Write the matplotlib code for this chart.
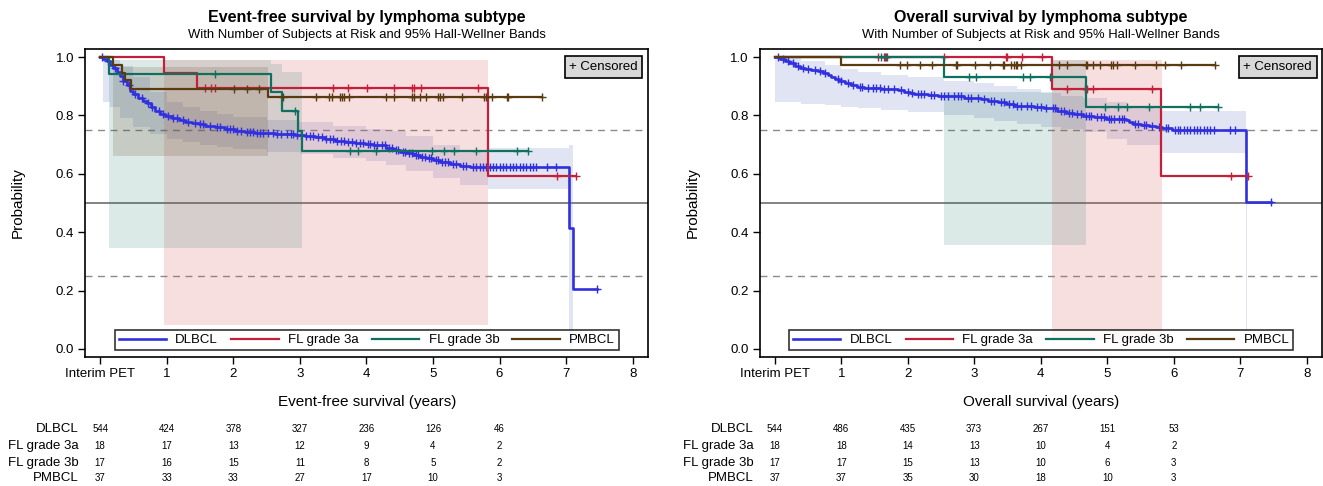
import numpy as np
import matplotlib.pyplot as plt
from matplotlib.transforms import blended_transform_factory

plt.rcParams['font.family'] = ['Liberation Sans', 'DejaVu Sans']

groups = ['DLBCL', 'FL grade 3a', 'FL grade 3b', 'PMBCL']
colors = ['#3030e0', '#c41e3a', '#107060', '#5a3a10']
band_colors = ['#6a78c0', '#d9534f', '#107060', '#5a3a10']
risk_years = [0, 1, 2, 3, 4, 5, 6]

# ---------------- event-free survival ----------------
efs_dlbcl_t = [0.00, 0.05, 0.10, 0.15, 0.20, 0.25, 0.30, 0.35, 0.40, 0.45, 0.50, 0.57, 0.64,
               0.70, 0.76, 0.83, 0.90, 0.98, 1.08, 1.18, 1.28, 1.38, 1.48, 1.58, 1.72, 1.88,
               2.03, 2.18, 2.33, 2.48, 2.63, 2.78, 2.93, 3.08, 3.23, 3.38, 3.53, 3.68, 3.83,
               3.98, 4.10, 4.20, 4.30, 4.40, 4.50, 4.60, 4.70, 4.80, 4.90, 5.00, 5.10, 5.25,
               5.41, 5.56, 7.05, 7.10]
efs_dlbcl_s = [1.000, 0.993, 0.985, 0.973, 0.962, 0.948, 0.934, 0.918, 0.903, 0.885, 0.872,
               0.860, 0.850, 0.841, 0.828, 0.815, 0.806, 0.799, 0.791, 0.784, 0.778, 0.773,
               0.769, 0.765, 0.759, 0.753, 0.748, 0.744, 0.741, 0.739, 0.737, 0.735, 0.733,
               0.730, 0.725, 0.719, 0.713, 0.708, 0.704, 0.701, 0.700, 0.697, 0.690, 0.683,
               0.676, 0.670, 0.664, 0.659, 0.653, 0.646, 0.639, 0.633, 0.628, 0.622, 0.414,
               0.207]
efs_dlbcl_end = 7.47
efs_dlbcl_cens = [0.03, 0.12, 0.22, 0.35, 0.44, 0.52, 0.63, 0.72, 0.78, 0.88, 0.95, 1.02, 1.10,
                  1.15, 1.25, 1.32, 1.42, 1.50, 1.55, 1.65, 1.75, 1.80, 1.90, 1.95, 2.00, 2.05,
                  2.12, 2.20, 2.25, 2.30, 2.35, 2.40, 2.45, 2.52, 2.60, 2.66, 2.72, 2.80, 2.86,
                  2.90, 2.96, 3.02, 3.10, 3.15, 3.20, 3.28, 3.33, 3.40, 3.45, 3.50, 3.56, 3.62,
                  3.66, 3.72, 3.78, 3.85, 3.90, 3.95, 4.02, 4.06, 4.12, 4.16, 4.24, 4.28, 4.34,
                  4.38, 4.45, 4.48, 4.55, 4.58, 4.64, 4.68, 4.74, 4.78, 4.84, 4.88, 4.94, 4.97,
                  5.04, 5.08, 5.14, 5.18, 5.22, 5.30, 5.35, 5.45, 5.50, 5.60, 5.65, 5.70, 5.75,
                  5.80, 5.86, 5.90, 5.95, 6.00, 6.05, 6.10, 6.15, 6.20, 6.25, 6.30, 6.35, 6.40,
                  6.45, 6.50, 6.55, 6.72, 6.85, 7.47]
efs_dlbcl_band_t = [0.04, 0.15, 0.30, 0.50, 0.75, 1.00, 1.25, 1.50, 1.75, 2.00, 2.50, 3.00,
                    3.50, 4.00, 4.30, 4.60, 5.00, 5.40, 5.83, 7.04, 7.10]
efs_dlbcl_band_lo = [0.847, 0.83, 0.79, 0.76, 0.735, 0.72, 0.71, 0.70, 0.692, 0.685, 0.675,
                     0.668, 0.655, 0.645, 0.63, 0.61, 0.585, 0.56, 0.549, 0.0]
efs_dlbcl_band_hi = [0.995, 0.99, 0.97, 0.93, 0.88, 0.845, 0.828, 0.815, 0.805, 0.795, 0.785,
                     0.778, 0.765, 0.755, 0.748, 0.73, 0.70, 0.68, 0.688, 0.70]

efs_fl3a_t = [0.00, 0.96, 1.45, 5.82]
efs_fl3a_s = [1.000, 0.946, 0.893, 0.592]
efs_fl3a_end = 7.15
efs_fl3a_cens = [1.58, 1.66, 1.73, 3.50, 3.72, 4.01, 4.41, 4.69, 4.72, 4.82, 5.68, 6.87, 7.15]
efs_fl3a_band_t = [0.96, 5.83]
efs_fl3a_band_lo = [0.082]
efs_fl3a_band_hi = [0.99]

efs_fl3b_t = [0.00, 0.135, 2.56, 2.73, 2.97, 3.04]
efs_fl3b_s = [1.000, 0.942, 0.879, 0.816, 0.747, 0.679]
efs_fl3b_end = 6.43
efs_fl3b_cens = [1.73, 2.92, 3.76, 3.87, 4.15, 4.98, 5.17, 5.32, 5.65, 6.26, 6.43]
efs_fl3b_band_t = [0.135, 2.56, 2.73, 3.04]
efs_fl3b_band_lo = [0.345, 0.345, 0.345]
efs_fl3b_band_hi = [0.99, 0.975, 0.95]

efs_pmbcl_t = [0.00, 0.20, 0.33, 0.37, 0.46, 2.52]
efs_pmbcl_s = [1.000, 0.973, 0.946, 0.920, 0.892, 0.862]
efs_pmbcl_end = 6.64
efs_pmbcl_cens = [2.01, 2.21, 2.38, 2.75, 3.24, 3.44, 3.48, 3.60, 3.64, 3.66, 3.74, 4.29, 4.41,
                  4.69, 4.72, 4.80, 4.90, 5.07, 5.11, 5.15, 5.44, 5.77, 5.79, 5.89, 6.11, 6.12,
                  6.64]
efs_pmbcl_band_t = [0.20, 2.52]
efs_pmbcl_band_lo = [0.661]
efs_pmbcl_band_hi = [0.967]

efs_risk_dlbcl = [544, 424, 378, 327, 236, 126, 46]
efs_risk_fl3a = [18, 17, 13, 12, 9, 4, 2]
efs_risk_fl3b = [17, 16, 15, 11, 8, 5, 2]
efs_risk_pmbcl = [37, 33, 33, 27, 17, 10, 3]

# ---------------- overall survival ----------------
os_dlbcl_t = [0.00, 0.08, 0.15, 0.22, 0.30, 0.38, 0.45, 0.55, 0.65, 0.72, 0.80, 0.85, 0.90,
              0.97, 1.05, 1.14, 1.23, 1.35, 1.45, 1.60, 1.75, 1.85, 1.95, 2.03, 2.10, 2.30,
              2.45, 2.65, 2.85, 3.00, 3.10, 3.20, 3.35, 3.48, 3.60, 3.75, 3.90, 4.05, 4.13,
              4.25, 4.38, 4.50, 4.63, 4.80, 4.98, 5.15, 5.28, 5.33, 5.38, 5.50, 5.63, 5.73,
              5.83, 5.98, 7.08]
os_dlbcl_s = [1.000, 0.993, 0.986, 0.978, 0.970, 0.964, 0.959, 0.955, 0.952, 0.946, 0.938,
              0.931, 0.924, 0.918, 0.912, 0.905, 0.898, 0.895, 0.893, 0.891, 0.890, 0.886,
              0.881, 0.876, 0.872, 0.870, 0.868, 0.865, 0.861, 0.858, 0.856, 0.851, 0.845,
              0.839, 0.833, 0.831, 0.830, 0.827, 0.824, 0.816, 0.809, 0.804, 0.799, 0.793,
              0.788, 0.786, 0.784, 0.777, 0.771, 0.768, 0.765, 0.760, 0.756, 0.750, 0.502]
os_dlbcl_end = 7.46
os_dlbcl_cens = [0.05, 0.12, 0.20, 0.27, 0.35, 0.42, 0.50, 0.60, 0.68, 0.76, 0.95, 1.00, 1.10,
                 1.18, 1.28, 1.32, 1.40, 1.48, 1.52, 1.58, 1.65, 1.70, 1.80, 1.90, 2.00, 2.06,
                 2.15, 2.20, 2.25, 2.35, 2.40, 2.50, 2.55, 2.60, 2.70, 2.75, 2.80, 2.90, 2.95,
                 3.05, 3.15, 3.25, 3.30, 3.40, 3.45, 3.52, 3.58, 3.65, 3.70, 3.80, 3.85, 3.95,
                 4.00, 4.08, 4.18, 4.22, 4.30, 4.35, 4.42, 4.47, 4.55, 4.60, 4.68, 4.72, 4.76,
                 4.85, 4.90, 4.95, 5.02, 5.06, 5.10, 5.18, 5.22, 5.25, 5.42, 5.46, 5.55, 5.58,
                 5.68, 5.78, 5.88, 5.92, 6.02, 6.06, 6.10, 6.15, 6.20, 6.25, 6.30, 6.35, 6.40,
                 6.45, 6.50, 6.55, 6.60, 6.85, 6.92, 7.46]
os_dlbcl_band_t = [0.00, 0.40, 0.75, 1.00, 1.25, 1.60, 2.00, 2.55, 3.00, 3.30, 3.65, 4.00,
                   4.30, 4.63, 5.00, 5.30, 5.83, 7.08, 7.10]
os_dlbcl_band_lo = [0.845, 0.84, 0.835, 0.83, 0.825, 0.82, 0.813, 0.801, 0.79, 0.78, 0.77,
                    0.761, 0.752, 0.742, 0.72, 0.699, 0.670, 0.02]
os_dlbcl_band_hi = [0.995, 0.985, 0.973, 0.96, 0.95, 0.94, 0.933, 0.918, 0.91, 0.90, 0.89,
                    0.876, 0.867, 0.858, 0.845, 0.830, 0.816, 0.75]

os_fl3a_t = [0.00, 4.17, 5.81]
os_fl3a_s = [1.000, 0.890, 0.594]
os_fl3a_end = 7.12
os_fl3a_cens = [1.55, 1.64, 1.66, 1.69, 2.55, 3.48, 3.50, 3.72, 4.02, 4.39, 4.66, 4.70, 4.79,
                5.67, 6.86, 7.12]
os_fl3a_band_t = [4.17, 5.83]
os_fl3a_band_lo = [0.03]
os_fl3a_band_hi = [0.99]

os_fl3b_t = [0.00, 2.55, 4.68]
os_fl3b_s = [1.000, 0.933, 0.830]
os_fl3b_end = 6.66
os_fl3b_cens = [1.60, 1.67, 2.92, 3.02, 3.74, 3.84, 4.14, 4.97, 5.16, 5.30, 5.63, 6.25, 6.39,
                6.66]
os_fl3b_band_t = [2.55, 4.17, 4.68]
os_fl3b_band_lo = [0.357, 0.357]
os_fl3b_band_hi = [0.88, 0.99]

os_pmbcl_t = [0.00, 0.99]
os_pmbcl_s = [1.000, 0.973]
os_pmbcl_end = 6.62
os_pmbcl_cens = [1.89, 1.99, 2.19, 2.36, 2.73, 2.74, 3.01, 3.23, 3.43, 3.45, 3.56, 3.60, 3.63,
                 3.65, 3.71, 4.27, 4.39, 4.68, 4.70, 4.79, 4.89, 5.06, 5.09, 5.14, 5.42, 5.74,
                 5.87, 6.11, 6.62]

os_risk_dlbcl = [544, 486, 435, 373, 267, 151, 53]
os_risk_fl3a = [18, 18, 14, 13, 10, 4, 2]
os_risk_fl3b = [17, 17, 15, 13, 10, 6, 3]
os_risk_pmbcl = [37, 37, 35, 30, 18, 10, 3]


def draw_band(ax, t, lo, hi, color, alpha):
    lo = list(lo) + [lo[-1]]
    hi = list(hi) + [hi[-1]]
    ax.fill_between(t, lo, hi, step='post', color=color, alpha=alpha, lw=0)


def draw_km(ax, t, s, end, cens, color, label, lw=1.6):
    tt = list(t) + [end]
    ss = list(s) + [s[-1]]
    ax.step(tt, ss, where='post', color=color, lw=lw, label=label)
    idx = np.searchsorted(t, cens, side='right') - 1
    ax.plot(cens, np.array(s)[idx], ls='none', marker='+', ms=5.5, mew=1.0, color=color)


def setup_axes(ax, fig, xlabel, risk):
    ax.set_xlim(-0.22, 8.23)
    ax.set_ylim(-0.026, 1.026)
    ax.axhline(0.75, color='#8a8a8a', lw=1.0, ls=(0, (5, 4)), zorder=0.5)
    ax.axhline(0.50, color='#7a7a7a', lw=1.3, zorder=0.5)
    ax.axhline(0.25, color='#8a8a8a', lw=1.0, ls=(0, (5, 4)), zorder=0.5)
    ax.set_xticks(range(9))
    ax.set_xticklabels(['Interim PET'] + [str(i) for i in range(1, 9)])
    ax.set_yticks([0.0, 0.2, 0.4, 0.6, 0.8, 1.0])
    ax.set_yticklabels(['0.0', '0.2', '0.4', '0.6', '0.8', '1.0'])
    ax.tick_params(direction='out', length=5, width=1, labelsize=9.5, pad=3)
    for sp in ax.spines.values():
        sp.set_linewidth(1.2)
    ax.set_ylabel('Probability', fontsize=11)
    ax.yaxis.set_label_coords(-0.108, 0.5)
    ax.set_xlabel(xlabel, fontsize=11)
    ax.xaxis.set_label_coords(0.5, -0.125)

    ax.text(0.982, 0.962, '+ Censored', transform=ax.transAxes, ha='right', va='top',
            fontsize=9.5, bbox=dict(boxstyle='square,pad=0.35', fc='#d9d9d9', ec='black', lw=1.2))

    leg = ax.legend(loc='lower center', bbox_to_anchor=(0.5, 0.02), ncol=4, fontsize=9.5,
                    handlelength=3.6, handletextpad=0.7, columnspacing=1.0, frameon=True,
                    fancybox=False, borderpad=0.3, borderaxespad=0.0)
    leg.get_frame().set_edgecolor('black')
    leg.get_frame().set_linewidth(1.2)

    # numbers at risk below the axis
    lab_tr = blended_transform_factory(ax.transAxes, fig.transFigure)
    num_tr = blended_transform_factory(ax.transData, fig.transFigure)
    rows_y = [0.1173, 0.0823, 0.0473, 0.0165]
    for name, vals, y in zip(groups, risk, rows_y):
        ax.text(-0.012, y, name, transform=lab_tr, ha='right', va='center', fontsize=9.5)
        for yr, v in zip(risk_years, vals):
            ax.text(yr, y, str(v), transform=num_tr, ha='center', va='center', fontsize=7)


fig = plt.figure(figsize=(13.23, 4.86), dpi=100)
ax1 = fig.add_axes([0.0646, 0.2663, 0.4252, 0.632])
ax2 = fig.add_axes([0.5745, 0.2663, 0.4248, 0.632])

# event-free survival panel
draw_band(ax1, efs_dlbcl_band_t, efs_dlbcl_band_lo, efs_dlbcl_band_hi, band_colors[0], 0.2)
draw_band(ax1, efs_fl3a_band_t, efs_fl3a_band_lo, efs_fl3a_band_hi, band_colors[1], 0.18)
draw_band(ax1, efs_fl3b_band_t, efs_fl3b_band_lo, efs_fl3b_band_hi, band_colors[2], 0.15)
draw_band(ax1, efs_pmbcl_band_t, efs_pmbcl_band_lo, efs_pmbcl_band_hi, band_colors[3], 0.16)
draw_km(ax1, efs_dlbcl_t, efs_dlbcl_s, efs_dlbcl_end, efs_dlbcl_cens, colors[0], groups[0], 1.9)
draw_km(ax1, efs_fl3a_t, efs_fl3a_s, efs_fl3a_end, efs_fl3a_cens, colors[1], groups[1])
draw_km(ax1, efs_fl3b_t, efs_fl3b_s, efs_fl3b_end, efs_fl3b_cens, colors[2], groups[2])
draw_km(ax1, efs_pmbcl_t, efs_pmbcl_s, efs_pmbcl_end, efs_pmbcl_cens, colors[3], groups[3])
setup_axes(ax1, fig, 'Event-free survival (years)',
           [efs_risk_dlbcl, efs_risk_fl3a, efs_risk_fl3b, efs_risk_pmbcl])

# overall survival panel
draw_band(ax2, os_dlbcl_band_t, os_dlbcl_band_lo, os_dlbcl_band_hi, band_colors[0], 0.2)
draw_band(ax2, os_fl3a_band_t, os_fl3a_band_lo, os_fl3a_band_hi, band_colors[1], 0.18)
draw_band(ax2, os_fl3b_band_t, os_fl3b_band_lo, os_fl3b_band_hi, band_colors[2], 0.15)
draw_km(ax2, os_dlbcl_t, os_dlbcl_s, os_dlbcl_end, os_dlbcl_cens, colors[0], groups[0], 1.9)
draw_km(ax2, os_fl3a_t, os_fl3a_s, os_fl3a_end, os_fl3a_cens, colors[1], groups[1])
draw_km(ax2, os_fl3b_t, os_fl3b_s, os_fl3b_end, os_fl3b_cens, colors[2], groups[2])
draw_km(ax2, os_pmbcl_t, os_pmbcl_s, os_pmbcl_end, os_pmbcl_cens, colors[3], groups[3])
setup_axes(ax2, fig, 'Overall survival (years)',
           [os_risk_dlbcl, os_risk_fl3a, os_risk_fl3b, os_risk_pmbcl])

for ax, title in [(ax1, 'Event-free survival by lymphoma subtype'),
                  (ax2, 'Overall survival by lymphoma subtype')]:
    pos = ax.get_position()
    xc = (pos.x0 + pos.x1) / 2
    fig.text(xc, 0.963, title, ha='center', va='center', fontsize=11.5, fontweight='bold')
    fig.text(xc, 0.928, 'With Number of Subjects at Risk and 95% Hall-Wellner Bands',
             ha='center', va='center', fontsize=9.4)

fig.savefig('out.png', dpi=100)
